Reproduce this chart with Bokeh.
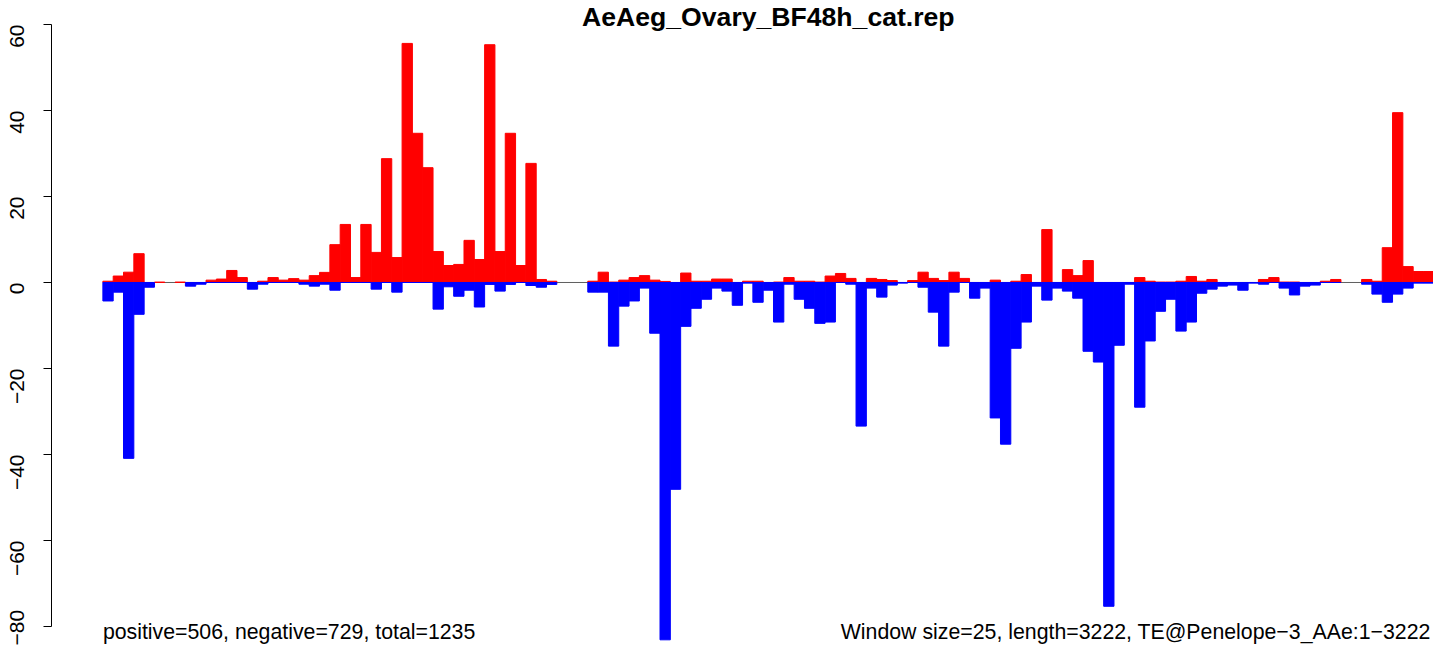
import math
import numpy as np
from bokeh.plotting import figure
from bokeh.models import Range1d, FixedTicker, Label, ColumnDataSource
from bokeh.embed import file_html
from bokeh.resources import INLINE

title_text = "AeAeg_Ovary_BF48h_cat.rep"
left_note = "positive=506, negative=729, total=1235"
right_note = "Window size=25, length=3222, TE@Penelope\u22123_AAe:1\u22123222"

# per-window read signal (25 bp windows); None = window without an entry
positive = [
    0.3, 1.5, 2.4, 6.7, 0, 0.1, None, 0.1, 0, 0,
    0.55, 0.8, 2.8, 1.15, 0, 0.3, 1.15, 0.55, 0.9, 0.55,
    1.6, 2.35, 8.8, 13.5, 1.15, 13.5, 7.0, 28.8, 5.8, 55.6,
    34.7, 26.7, 7.2, 3.95, 4.2, 9.8, 5.35, 55.3, 7.2, 34.7,
    3.95, 27.7, 0.7, 0.3, None, None, None, 0.3, 2.4, 0.1,
    0.55, 1.15, 1.6, 0.55, 0.25, 0, 2.2, 0.3, 0.3, 0.8,
    0.8, 0, 0.3, 0.3, 0, 0.1, 1.15, 0.3, 0.3, 0.1,
    1.5, 2.1, 0.95, 0, 0.95, 0.7, 0.45, 0, 0.45, 2.4,
    0.95, 0.45, 2.4, 0.95, 0, 0, 0.55, 0, 0.3, 1.85,
    0, 12.3, 0, 3.0, 1.6, 5.1, 0, 0, 0, 0,
    1.15, 0.3, 0.1, 0.1, 0.3, 1.4, 0.3, 0.7, 0, 0,
    0, 0, 0.7, 1.15, 0.1, 0.1, 0, 0, 0.3, 0.7,
    None, None, 0.7, 0.3, 8.1, 39.5, 3.7, 2.55, 2.55,
]
negative = [
    -4.3, -2.25, -40.9, -7.4, -1.1, None, None, None, -0.85, -0.4,
    0, 0, 0, 0, -1.55, -0.4, 0, 0, 0, -0.4,
    -0.85, -0.4, -1.8, 0, 0, 0, -1.55, 0, -2.25, 0,
    0, 0, -6.2, -1.0, -3.2, -1.8, -5.7, -0.45, -2.0, -0.45,
    0, -0.7, -1.1, -0.45, None, None, None, -2.25, -2.25, -14.8,
    -5.5, -4.3, -1.3, -11.8, -83.1, -48.1, -10.2, -6.0, -3.9, -1.3,
    -2.0, -5.3, -0.15, -4.6, -1.8, -9.2, -0.4, -3.9, -6.0, -9.5,
    -9.2, 0, -0.4, -33.4, -1.3, -3.4, -0.6, -0.15, 0, -1.1,
    -6.9, -14.8, -2.25, 0, -3.65, -1.3, -31.5, -37.6, -15.3, -9.2,
    -0.85, -4.1, -1.3, -2.0, -3.65, -16.0, -18.5, -75.3, -14.6, -0.4,
    -29.0, -13.6, -6.7, -3.9, -11.3, -9.2, -2.5, -1.55, -0.85, -0.6,
    -1.8, -0.15, -0.4, 0, -1.3, -2.9, -0.85, -0.6, 0, 0,
    None, None, -0.4, -2.7, -4.6, -2.7, -1.3, -0.15, -0.15,
]
y_ticks = [-80, -60, -40, -20, 0, 20, 40, 60]
y_tick_labels = ["\u221280", "\u221260", "\u221240", "\u221220", "0", "20", "40", "60"]

n = len(positive)
centers = np.arange(n) + 0.5
src = ColumnDataSource(dict(
    x=centers,
    pos=np.array(positive, dtype=float),
    neg=np.array(negative, dtype=float),
))

FONT = "Liberation Sans"

p = figure(width=1433, height=645, output_backend="svg", toolbar_location=None,
           x_range=Range1d(-4.98, 128.97), y_range=Range1d(-84.42, 65.58),
           x_axis_location=None, y_axis_location="left")
p.min_border_left = 51
p.min_border_right = 0
p.min_border_top = 0
p.min_border_bottom = 0
p.outline_line_color = None
p.xgrid.visible = False
p.ygrid.visible = False
p.background_fill_color = "white"
p.border_fill_color = "white"

# zero line
p.line(x=[0, n], y=[0, 0], line_color="#606060", line_width=1)

p.vbar(x="x", width=1.0, bottom=0, top="pos", source=src,
       fill_color="#FF0000", line_color="#FF0000", line_width=1)
p.vbar(x="x", width=1.0, bottom=0, top="neg", source=src,
       fill_color="#0000FF", line_color="#0000FF", line_width=1)

ax = p.yaxis[0]
ax.ticker = FixedTicker(ticks=y_ticks)
ax.major_label_overrides = {t: l for t, l in zip(y_ticks, y_tick_labels)}
ax.bounds = (min(y_ticks), max(y_ticks))
ax.major_tick_out = 8
ax.major_tick_in = 0
ax.minor_tick_out = 0
ax.minor_tick_in = 0
ax.axis_line_color = "black"
ax.major_tick_line_color = "black"
ax.major_label_orientation = math.pi / 2
ax.major_label_standoff = 26
ax.major_label_text_font = FONT
ax.major_label_text_font_size = "21px"
ax.major_label_text_color = "black"

p.add_layout(Label(x=n / 2, y=61.8, text=title_text, text_align="center",
                   text_baseline="alphabetic", text_font=FONT,
                   text_font_size="26.6px", text_font_style="bold",
                   text_color="black"))
p.add_layout(Label(x=0, y=-81.2, text=left_note, text_align="left",
                   text_baseline="alphabetic", text_font=FONT,
                   text_font_size="21.3px", text_color="black"))
p.add_layout(Label(x=n - 0.3, y=-81.2, text=right_note, text_align="right",
                   text_baseline="alphabetic", text_font=FONT,
                   text_font_size="21.3px", text_color="black"))

open("out.html", "w").write(file_html(p, INLINE))
